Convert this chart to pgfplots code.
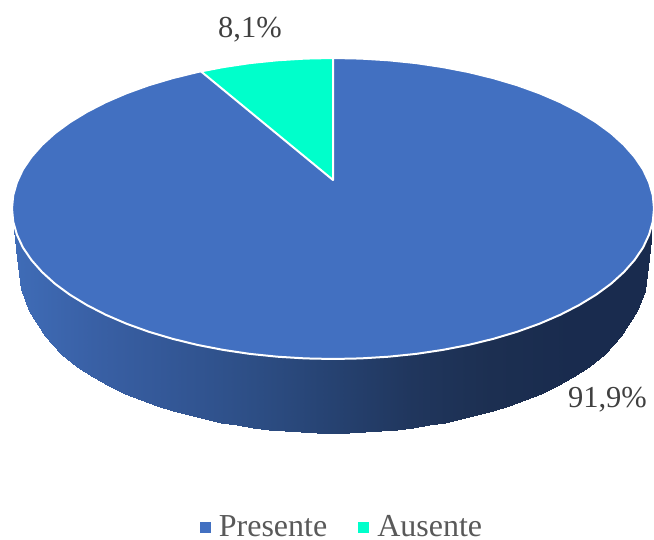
\documentclass[border=0pt]{standalone}
\usepackage{fontspec}
\setmainfont{Liberation Serif}
\usepackage{pgfplots}
\pgfplotsset{compat=1.18}
\definecolor{pieblue}{RGB}{66,112,193}
\definecolor{piegreen}{RGB}{0,255,203}
\definecolor{lab}{RGB}{64,64,64}
\definecolor{leg}{RGB}{89,89,89}
\begin{document}
\begin{tikzpicture}
\useasboundingbox (0,0) rectangle (654pt,540pt);
\begin{axis}[
  at={(0,0)}, anchor=south west,
  hide axis, scale only axis, width=654pt, height=540pt,
  xmin=0, xmax=654, ymin=0, ymax=540, y dir=reverse,
  colormap={side}{rgb255=(63,108,183) rgb255=(57,96,165) rgb255=(51,87,150) rgb255=(45,78,133)
    rgb255=(38,66,113) rgb255=(32,54,93) rgb255=(28,47,81) rgb255=(25,43,78) rgb255=(25,43,78)},
  legend style={at={(axis cs:342,527)}, anchor=center, draw=none, fill=none,
    legend columns=2, font=\fontsize{32}{32}\selectfont\color{leg},
    inner sep=0pt, outer sep=0pt, /tikz/every even column/.append style={column sep=29pt}},
  legend cell align=left,
]
% side wall of the disc
\addplot[surf, shader=interp, forget plot, mesh/rows=2, mesh/cols=45, mesh/ordering=y varies,
  point meta=x, point meta min=14, point meta max=652] coordinates {
 (14,225.3)(14,230) (17,235)(17,258) (21,243.9)(21,289) (29,256.8)(29,311) (45,275)(45,336)
 (61,288.4)(61,353.5) (77,299.3)(77,367.3) (93,308.4)(93,377.4) (109,316.3)(109,386.1)
 (125,323.1)(125,393.6) (141,329.1)(141,400.2) (157,334.4)(157,405.9) (173,339)(173,411)
 (189,343)(189,415.4) (205,346.5)(205,419.3) (221,349.5)(221,422.6) (237,352.1)(237,425.4)
 (253,354.3)(253,427.8) (269,356)(269,429.7) (285,357.3)(285,431.1) (301,358.3)(301,432.2)
 (317,358.8)(317,432.8) (333,359)(333,433) (349,358.8)(349,432.8) (365,358.3)(365,432.2)
 (381,357.3)(381,431.1) (397,356)(397,429.7) (413,354.3)(413,427.8) (429,352.1)(429,425.4)
 (445,349.5)(445,422.6) (461,346.5)(461,419.3) (477,343)(477,415.4) (493,339)(493,411)
 (509,334.4)(509,405.9) (525,329.1)(525,400.2) (541,323.1)(541,393.6) (557,316.3)(557,386.1)
 (573,308.4)(573,377.4) (589,299.3)(589,367.3) (605,288.4)(605,353.5) (621,275)(621,336)
 (637,256.8)(637,311) (645,243.9)(645,291) (649,235)(649,258) (652,225.3)(652,230)
};
% Presente, 91.9 %
\addplot[fill=pieblue, draw=white, line width=2pt, line join=round, forget plot] coordinates {
 (654,208.5)(652.8,221.6)(649.1,234.6)(643.1,247.5)(634.6,260)(623.9,272.1)(611,283.8)(596,294.8)
 (578.9,305.2)(560,314.9)(539.3,323.8)(517.1,331.8)(493.5,338.8)(468.7,344.9)(442.8,349.9)
 (416.1,353.9)(388.7,356.7)(361,358.4)(333,359)
 (305,358.4)(277.3,356.7)(249.9,353.9)(223.2,349.9)(197.3,344.9)(172.5,338.8)(148.9,331.8)
 (126.7,323.8)(106,314.9)(87.1,305.2)(70,294.8)(55,283.8)(42.1,272.1)(31.4,260)(22.9,247.5)
 (16.9,234.6)(13.2,221.6)(12,208.5)
 (13.2,195.4)(16.9,182.4)(22.9,169.5)(31.4,157)(42.1,144.9)(55,133.2)(70,122.2)(87.1,111.8)
 (106,102.1)(126.7,93.2)(148.9,85.2)(172.5,78.2)(197.3,72.1)(223.2,67.1)(249.9,63.1)(277.3,60.3)
 (305,58.6)(333,58)
 (361,58.6)(388.7,60.3)(416.1,63.1)(442.8,67.1)(468.7,72.1)(493.5,78.2)(517.1,85.2)(539.3,93.2)
 (560,102.1)(578.9,111.8)(596,122.2)(611,133.2)(623.9,144.9)(634.6,157)(643.1,169.5)(649.1,182.4)
 (652.8,195.4)
} --cycle;
% Ausente, 8.1 %
\addplot[fill=piegreen, draw=white, line width=2pt, line join=round, forget plot] coordinates {
 (333,180)(333,58)(305,58.6)(277.3,60.3)(249.9,63.1)(223.2,67.1)(201,71.4)
} --cycle;
\addlegendimage{legend image code/.code={\fill[pieblue,draw=none] (0pt,-5.5pt) rectangle (11pt,5.5pt);\path[draw=none] (0pt,0pt) -- (17pt,0pt);}}
\addlegendentry{Presente}
\addlegendimage{legend image code/.code={\fill[piegreen,draw=none] (0pt,-5.5pt) rectangle (11pt,5.5pt);\path[draw=none] (0pt,0pt) -- (17pt,0pt);}}
\addlegendentry{Ausente}
\node[text=lab, font=\fontsize{30.5}{31}\selectfont] at (axis cs:250,29.5) {8,1\%};
\node[text=lab, font=\fontsize{30.5}{31}\selectfont] at (axis cs:607.5,399.5) {91,9\%};
\end{axis}
\end{tikzpicture}
\end{document}
